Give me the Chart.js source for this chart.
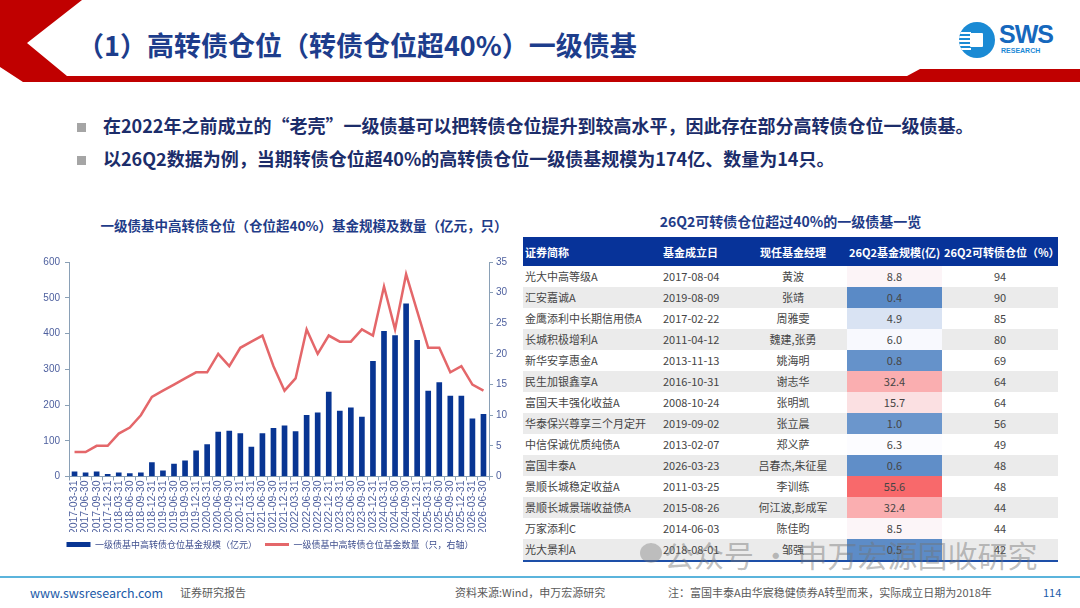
<!DOCTYPE html>
<html>
<head>
<meta charset="utf-8">
<script src="https://cdn.jsdelivr.net/npm/chart.js@4.4.1/dist/chart.umd.min.js"></script>
<style>
body{margin:0;width:1080px;height:608px;overflow:hidden;background:#fff;position:relative;font-family:"Noto Sans CJK SC",sans-serif}
.abs{position:absolute}
.title{left:77px;top:26px;font-size:27px;font-weight:bold;color:#1d3d8c;white-space:nowrap;line-height:38px}
.logoC{left:959px;top:22px;width:36px;height:36px;border-radius:50%;background:#1a8ad4;overflow:hidden}
.logoC i{position:absolute;left:11px;top:11px;width:13px;height:14px;background:#fff;border-radius:1px}
.logoC s{position:absolute;left:0;width:12px;height:1.5px;background:#fff}
.sws{left:999px;top:20px;font-family:"Liberation Sans",Arial,sans-serif;font-weight:bold;font-size:25px;color:#1668bd;letter-spacing:-1px}
.res{left:1001px;top:47px;font-family:"Liberation Sans",Arial,sans-serif;font-weight:bold;font-size:7px;color:#1d8ad6}
.bul{left:77px;font-size:18px;font-weight:bold;color:#1c2d6a;white-space:nowrap;line-height:24px}
.bul b{display:inline-block;width:9px;height:9px;background:#a5a5a5;margin-right:17px;vertical-align:1px}
.ctitle{left:64px;width:480px;top:215px;text-align:center;font-size:13.5px;font-weight:bold;color:#1f3c88;white-space:nowrap}
.ttitle{left:523px;width:535px;top:211px;text-align:center;font-size:14px;font-weight:bold;color:#1f3c88}
#box{left:30px;top:250px;width:480px;height:317px}
table{border-collapse:collapse;left:523px;top:237px;width:535px;font-size:11px;color:#454545;table-layout:fixed}
th{background:#073399;color:#fff;font-weight:bold;height:29px;padding:0 2px;font-size:11px;white-space:nowrap}
td{height:21px;padding:0 2px;white-space:nowrap;line-height:21px}
tr:nth-child(even) td{background:#ebebeb}
tbody tr:last-child td{border-bottom:2px solid #1d4fa8}
.l{text-align:left}.c{text-align:center}
.foot{top:576px;left:0;width:1080px;height:2px;background:#5bb4dc}
.ft{top:584px;font-size:11px;color:#5a5a5a;white-space:nowrap}
.wmi{left:640px;top:543px;width:22px;height:20px;border-radius:50%;background:rgba(120,120,120,0.4)}
.wm{left:664px;top:532px;font-size:30px;color:rgba(115,115,115,0.45);white-space:nowrap}
</style>
</head>
<body>
<svg class="abs" style="left:0;top:0" width="1080" height="90">
  <polygon points="0,0 82,0 27,43 67,76 907,76 920,69 1080,69 1080,82 23,82 0,67" fill="#c00000"/>
</svg>
<div class="abs title">（1）高转债仓位（转债仓位超40%）一级债基</div>
<div class="abs logoC"><s style="top:10px"></s><s style="top:14px"></s><s style="top:18px"></s><s style="top:22px"></s><s style="top:26px"></s><i></i></div>
<div class="abs sws">SWS</div>
<div class="abs res">RESEARCH</div>

<div class="abs bul" style="top:113px"><b></b>在2022年之前成立的“老壳”一级债基可以把转债仓位提升到较高水平，因此存在部分高转债仓位一级债基。</div>
<div class="abs bul" style="top:146px"><b></b>以26Q2数据为例，当期转债仓位超40%的高转债仓位一级债基规模为174亿、数量为14只。</div>

<div class="abs ctitle">一级债基中高转债仓位（仓位超40%）基金规模及数量（亿元，只）</div>
<div class="abs" id="box"><canvas id="c"></canvas></div>

<div class="abs ttitle">26Q2可转债仓位超过40%的一级债基一览</div>
<table class="abs" id="tbl">
  <colgroup><col style="width:138px"><col style="width:78px"><col style="width:108px"><col style="width:95px"><col style="width:116px"></colgroup>
  <thead><tr><th class="l">证券简称</th><th class="l">基金成立日</th><th class="c">现任基金经理</th><th class="c">26Q2基金规模(亿)</th><th class="c">26Q2可转债仓位（%）</th></tr></thead>
  <tbody></tbody>
</table>

<div class="abs foot"></div>
<div class="abs ft" style="left:30px;color:#1b5aa8;font-size:12.5px;top:583px">www.swsresearch.com</div>
<div class="abs ft" style="left:180px">证券研究报告</div>
<div class="abs ft" style="left:455px">资料来源:Wind，申万宏源研究</div>
<div class="abs ft" style="left:668px">注：富国丰泰A由华宸稳健债券A转型而来，实际成立日期为2018年</div>
<div class="abs ft" style="left:1043px;color:#1b5aa8">114</div>
<div class="abs wmi"></div>
<div class="abs wm">公众号 · 申万宏源固收研究</div>

<script>
// 季度
const quarters = ['2017-03-31','2017-06-30','2017-09-30','2017-12-31','2018-03-31','2018-06-30','2018-09-30','2018-12-31',
  '2019-03-31','2019-06-30','2019-09-30','2019-12-31','2020-03-31','2020-06-30','2020-09-30','2020-12-31',
  '2021-03-31','2021-06-30','2021-09-30','2021-12-31','2022-03-31','2022-06-30','2022-09-30','2022-12-31',
  '2023-03-31','2023-06-30','2023-09-30','2023-12-31','2024-03-31','2024-06-30','2024-09-30','2024-12-31',
  '2025-03-31','2025-06-30','2025-09-30','2025-12-31','2026-03-31','2026-06-30'];
// 基金规模（亿元）
const fundSize = [13,10,13,6,10,8,10,39,16,35,44,72,89,124,127,120,82,120,135,142,126,171,178,236,183,192,166,322,406,394,483,381,239,263,225,225,161,174];
// 基金数量（只）
const fundCount = [4,4,5,5,7,8,10,13,14,15,16,17,17,20,18,21,22,23,18,14,16,24,20,23,22,22,24,23,31,24,33,27,21,21,17,18,15,14];
const leftTicks = [0,100,200,300,400,500,600];
const rightTicks = [0,5,10,15,20,25,30,35];

// 表格
const fundNames = ['光大中高等级A','汇安嘉诚A','金鹰添利中长期信用债A','长城积极增利A','新华安享惠金A','民生加银鑫享A','富国天丰强化收益A','华泰保兴尊享三个月定开','中信保诚优质纯债A','富国丰泰A','景顺长城稳定收益A','景顺长城景瑞收益债A','万家添利C','光大景利A'];
const setupDates = ['2017-08-04','2019-08-09','2017-02-22','2011-04-12','2013-11-13','2016-10-31','2008-10-24','2019-09-02','2013-02-07','2026-03-23','2011-03-25','2015-08-26','2014-06-03','2018-08-01'];
const managers = ['黄波','张靖','周雅雯','魏建,张勇','姚海明','谢志华','张明凯','张立晨','郑义萨','吕春杰,朱征星','李训练','何江波,彭成军','陈佳昀','邹强'];
const tableSize = [8.8,0.4,4.9,6.0,0.8,32.4,15.7,1.0,6.3,0.6,55.6,32.4,8.5,0.5];
const cbRatio = [94,90,85,80,69,64,64,56,49,48,48,44,44,42];

// 三色刻度 蓝-白-红
function heat(v){
  const s = tableSize.slice().sort((a,b)=>a-b);
  const mid = (s[6]+s[7])/2, lo = s[0], hi = s[s.length-1];
  const blue=[90,138,198], white=[252,252,255], red=[248,105,107];
  let a,b,t;
  if(v<=mid){a=blue;b=white;t=(v-lo)/(mid-lo);} else {a=white;b=red;t=(v-mid)/(hi-mid);}
  const c=a.map((x,i)=>Math.round(x+(b[i]-x)*t));
  return 'rgb('+c.join(',')+')';
}
const tb = document.querySelector('#tbl tbody');
for(let i in fundNames){
  const tr = document.createElement('tr');
  tr.innerHTML = '<td class="l">'+fundNames[i]+'</td><td class="l">'+setupDates[i]+'</td><td class="c">'+managers[i]+
    '</td><td class="c" style="background:'+heat(tableSize[i])+'">'+tableSize[i].toFixed(1)+'</td><td class="c">'+cbRatio[i]+'</td>';
  tb.appendChild(tr);
}

Chart.defaults.font.family = '"Liberation Sans", Arial, sans-serif';
const axisColor = '#8aa0b6';
const tickColor = '#4d5f9e';
const barColor = '#083593';
const lineColor = '#e4676a';

new Chart(document.getElementById('c'), {
  type: 'bar',
  data: {
    labels: quarters,
    datasets: [{
      label: '一级债基中高转债仓位基金规模（亿元）',
      data: fundSize,
      backgroundColor: barColor,
      barThickness: 5,
      yAxisID: 'y',
      order: 2
    },{
      type: 'line',
      label: '一级债基中高转债仓位基金数量（只，右轴）',
      data: fundCount,
      borderColor: lineColor,
      backgroundColor: lineColor,
      borderWidth: 2.5,
      pointRadius: 0,
      tension: 0,
      yAxisID: 'y1',
      order: 1
    }]
  },
  options: {
    responsive: true,
    maintainAspectRatio: false,
    animation: false,
    layout: {padding: {top: 12, left: 0, right: 0, bottom: 8}},
    plugins: {
      tooltip: {enabled: false},
      legend: {
        position: 'bottom',
        labels: {
          font: {family: '"Noto Sans CJK SC", sans-serif', size: 9},
          color: '#3f4f8f',
          usePointStyle: true,
          pointStyleWidth: 24,
          boxHeight: 5,
          padding: 8,
          sort: (a, b) => a.datasetIndex - b.datasetIndex,
          generateLabels: function(chart){
            const items = Chart.defaults.plugins.legend.labels.generateLabels(chart);
            items.forEach(function(it){
              if(it.datasetIndex == 0){
                it.pointStyle = 'rect'; it.lineWidth = 0; it.fillStyle = barColor;
              } else {
                it.pointStyle = 'line'; it.lineWidth = 3; it.strokeStyle = lineColor;
              }
            });
            return items;
          }
        }
      }
    },
    scales: {
      x: {
        grid: {display: true, drawOnChartArea: false, tickLength: 4, color: axisColor},
        border: {color: axisColor},
        ticks: {autoSkip: false, minRotation: 90, maxRotation: 90, color: tickColor, font: {size: 10.5}, padding: 0},
        afterFit: function(s){ s.height = 55.5; }
      },
      y: {
        min: 0, max: 600,
        afterBuildTicks: function(s){ s.ticks = leftTicks.map(v => ({value: v})); },
        grid: {display: true, drawOnChartArea: false, tickLength: 4, color: axisColor},
        border: {color: axisColor},
        ticks: {color: tickColor, font: {size: 10}, padding: 5},
        afterFit: function(s){ s.width = 39; }
      },
      y1: {
        position: 'right',
        min: 0, max: 35,
        afterBuildTicks: function(s){ s.ticks = rightTicks.map(v => ({value: v})); },
        grid: {display: true, drawOnChartArea: false, tickLength: 4, color: axisColor},
        border: {color: axisColor},
        ticks: {color: tickColor, font: {size: 10}, padding: 3},
        afterFit: function(s){ s.width = 21; }
      }
    }
  }
});
</script>
</body>
</html>
